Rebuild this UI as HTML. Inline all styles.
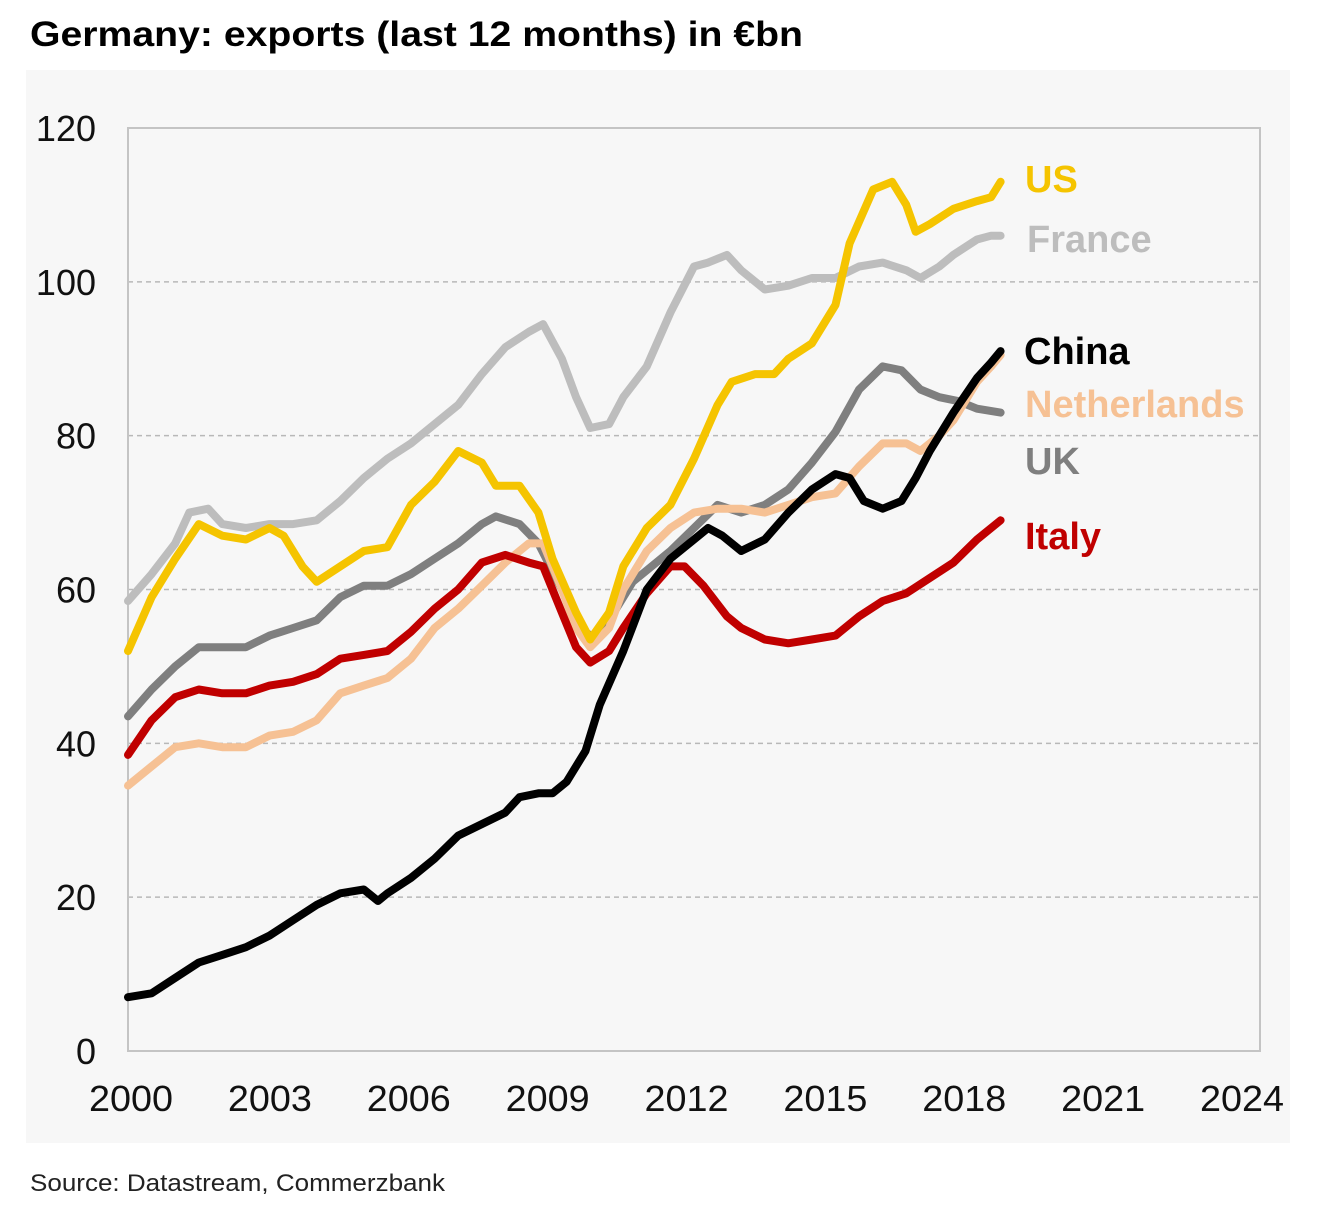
<!DOCTYPE html>
<html><head><meta charset="utf-8"><style>
body{margin:0;background:#fff;width:1322px;height:1204px;overflow:hidden;font-family:"Liberation Sans",sans-serif}
</style></head><body>
<svg id="c" width="1322" height="1204" xmlns="http://www.w3.org/2000/svg">
<text x="30" y="46" font-size="35" font-weight="bold" textLength="773" lengthAdjust="spacingAndGlyphs">Germany: exports (last 12 months) in €bn</text>
<rect x="26" y="70" width="1264" height="1073" fill="#f7f7f7"/>
<g id="grid"></g><g id="axes"></g><g id="lines"></g><g id="labels"></g>
<text x="30" y="1191" font-size="24" fill="#222" textLength="415" lengthAdjust="spacingAndGlyphs">Source: Datastream, Commerzbank</text>
</svg>
<script>
const yTicks=[0,20,40,60,80,100,120];
const xTicks=[2000,2003,2006,2009,2012,2015,2018,2021,2024];
const usT=[2000,2000.5,2001,2001.5,2002,2002.5,2003,2003.3,2003.7,2004,2004.5,2005,2005.5,2006,2006.5,2007,2007.5,2007.8,2008.3,2008.7,2009,2009.5,2009.8,2010.2,2010.5,2011,2011.5,2012,2012.5,2012.8,2013.3,2013.7,2014,2014.5,2015,2015.3,2015.8,2016.2,2016.5,2016.7,2017,2017.5,2018,2018.3,2018.5];
const usV=[52,59,64,68.5,67,66.5,68,67,63,61,63,65,65.5,71,74,78,76.5,73.5,73.5,70,64,57,53.5,57,63,68,71,77,84,87,88,88,90,92,97,105,112,113,110,106.5,107.5,109.5,110.5,111,113];
const frT=[2000,2000.5,2001,2001.3,2001.7,2002,2002.5,2003,2003.5,2004,2004.5,2005,2005.5,2006,2006.5,2007,2007.5,2008,2008.5,2008.8,2009.2,2009.5,2009.8,2010.2,2010.5,2011,2011.5,2012,2012.3,2012.7,2013,2013.5,2014,2014.5,2015,2015.5,2016,2016.5,2016.8,2017.2,2017.5,2018,2018.3,2018.5];
const frV=[58.5,62,66,70,70.5,68.5,68,68.5,68.5,69,71.5,74.5,77,79,81.5,84,88,91.5,93.5,94.5,90,85,81,81.5,85,89,96,102,102.5,103.5,101.5,99,99.5,100.5,100.5,102,102.5,101.5,100.5,102,103.5,105.5,106,106];
const cnT=[2000,2000.5,2001,2001.5,2002,2002.5,2003,2003.5,2004,2004.5,2005,2005.3,2005.5,2006,2006.5,2007,2007.5,2008,2008.3,2008.7,2009,2009.3,2009.7,2010,2010.5,2011,2011.5,2012,2012.3,2012.6,2013,2013.5,2014,2014.5,2015,2015.3,2015.6,2016,2016.4,2016.7,2017,2017.5,2018,2018.3,2018.5];
const cnV=[7,7.5,9.5,11.5,12.5,13.5,15,17,19,20.5,21,19.5,20.5,22.5,25,28,29.5,31,33,33.5,33.5,35,39,45,52,60,64,66.5,68,67,65,66.5,70,73,75,74.5,71.5,70.5,71.5,74.5,78,83,87.5,89.5,91];
const nlT=[2000,2000.5,2001,2001.5,2002,2002.5,2003,2003.5,2004,2004.5,2005,2005.5,2006,2006.5,2007,2007.5,2008,2008.5,2008.8,2009.2,2009.5,2009.8,2010.2,2010.5,2011,2011.5,2012,2012.5,2013,2013.5,2014,2014.5,2015,2015.5,2016,2016.5,2016.8,2017.2,2017.5,2018,2018.3,2018.5];
const nlV=[34.5,37,39.5,40,39.5,39.5,41,41.5,43,46.5,47.5,48.5,51,55,57.5,60.5,63.5,66,66,60,55,52.5,55,60,65,68,70,70.5,70.5,70,71,72,72.5,76,79,79,78,80,82,87,89,90.5];
const ukT=[2000,2000.5,2001,2001.5,2002,2002.5,2003,2003.5,2004,2004.5,2005,2005.5,2006,2006.5,2007,2007.5,2007.8,2008.3,2008.7,2009.2,2009.6,2009.9,2010.3,2010.7,2011,2011.5,2012,2012.5,2013,2013.5,2014,2014.5,2015,2015.5,2016,2016.4,2016.8,2017.2,2017.6,2018,2018.5];
const ukV=[43.5,47,50,52.5,52.5,52.5,54,55,56,59,60.5,60.5,62,64,66,68.5,69.5,68.5,66,60,55,53.5,57,61,62.5,65,68,71,70,71,73,76.5,80.5,86,89,88.5,86,85,84.5,83.5,83];
const itT=[2000,2000.5,2001,2001.5,2002,2002.5,2003,2003.5,2004,2004.5,2005,2005.5,2006,2006.5,2007,2007.5,2008,2008.5,2008.8,2009.2,2009.5,2009.8,2010.2,2010.5,2011,2011.5,2011.8,2012.2,2012.7,2013,2013.5,2014,2014.5,2015,2015.5,2016,2016.5,2017,2017.5,2018,2018.5];
const itV=[38.5,43,46,47,46.5,46.5,47.5,48,49,51,51.5,52,54.5,57.5,60,63.5,64.5,63.5,63,57,52.5,50.5,52,55,59.5,63,63,60.5,56.5,55,53.5,53,53.5,54,56.5,58.5,59.5,61.5,63.5,66.5,69];
const NS="http://www.w3.org/2000/svg";
const X0=128,X1=1260,Y0=1051,Y1=128;
const xs=t=>X0+(t-2000)*(X1-X0)/24, ys=v=>Y0-v*(Y0-Y1)/120;
const xl=t=>131+(t-2000)*(1242-131)/24;
function mk(tag,p,at){const e=document.createElementNS(NS,tag);for(const k in at)e.setAttribute(k,at[k]);document.getElementById(p).appendChild(e);return e;}
yTicks.forEach(v=>{
  if(v>0&&v<120){const g=mk('line','grid',{x1:X0,x2:X1,y1:ys(v),y2:ys(v),stroke:'#b8b8b8','stroke-width':1.5,'stroke-dasharray':'5,4'});
  
  }
  const t=mk('text','axes',{x:96,y:ys(v)+13,'font-size':36,'text-anchor':'end',fill:'#111'});t.textContent=v;
  
  
});
xTicks.forEach(v=>{const t=mk('text','axes',{x:xl(v)-42,y:1111,'font-size':36,fill:'#111',textLength:84,lengthAdjust:'spacingAndGlyphs'});t.textContent=v;
  
  });
const fr=mk('rect','axes',{x:X0,y:Y1,width:X1-X0,height:Y0-Y1,fill:'none',stroke:'#c4c4c4','stroke-width':2});


const series=[['france',frT,frV,'#bdbdbd','France',1027,252],['uk',ukT,ukV,'#7f7f7f','UK',1025,474],['netherlands',nlT,nlV,'#f6c194','Netherlands',1025,417],['italy',itT,itV,'#c00000','Italy',1025,549],['us',usT,usV,'#f5c400','US',1025,192],['china',cnT,cnV,'#000','China',1024,364]];
series.forEach(s=>{
  const d=s[1].map((t,i)=>(i?'L':'M')+xs(t).toFixed(1)+','+ys(s[2][i]).toFixed(1)).join('');
  const p=mk('path','lines',{d:d,fill:'none',stroke:s[3],'stroke-width':8,'stroke-linejoin':'round','stroke-linecap':'round'});
  
  
  const t=mk('text','labels',{x:s[5],y:s[6],'font-size':38,'font-weight':'bold',fill:s[3]});t.textContent=s[4];
  
  
});
</script>
</body></html>
